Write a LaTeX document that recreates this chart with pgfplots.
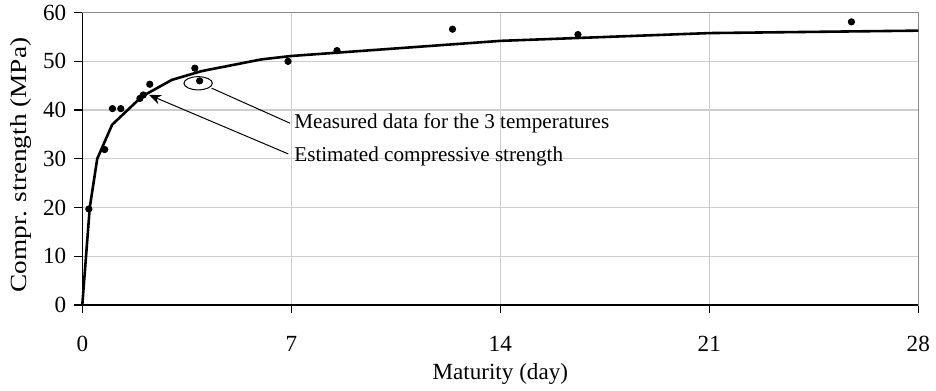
\documentclass[border=0pt]{standalone}
\usepackage{pgfplots}
\pgfplotsset{compat=1.18}
\usepackage{graphicx}
\usepackage{fontspec}
\setmainfont{Liberation Serif}
\usetikzlibrary{arrows.meta}
\definecolor{gridc}{RGB}{205,205,205}
\definecolor{borderc}{RGB}{140,140,140}
\begin{document}
\fontsize{11.6}{14}\selectfont
\begin{tikzpicture}
\useasboundingbox (-41.15bp,-43bp) rectangle (426.85bp,152.5bp);
\begin{axis}[
  scale only axis,
  width=418bp, height=146.2bp,
  xmin=0, xmax=28, ymin=0, ymax=60,
  xtick={0,7,14,21,28}, ytick={0,10,...,60},
  grid=major,
  major grid style={draw=gridc, line width=0.6pt},
  axis line style={draw=borderc, line width=0.6pt},
  tick align=outside, xtick pos=left, ytick pos=left,
  major tick length=4bp,
  tick style={black, line width=0.6pt},
  /pgf/number format/assume math mode=true,
  ticklabel style={font=\fontsize{11.6}{14}\selectfont},
  xticklabel style={yshift=-7.5bp},
  label style={font=\fontsize{11.6}{14}\selectfont},
  xlabel={Maturity (day)},
  ylabel={\scalebox{1.18}[1]{Compr. strength (MPa)}},
  xlabel style={at={(axis description cs:0.5,-0.236)}, anchor=center},
  ylabel style={at={(axis description cs:-0.0739,0.479)}, anchor=center},
  clip=false,
]
\addplot[black, line width=1.3pt, mark=none] coordinates {
 (0,0) (0.25,20) (0.5,30) (1,37) (2,42.8) (3,46.2) (4,48) (6,50.4) (7,51.1)
 (14,54.2) (21,55.8) (28,56.3)
};
\addplot[only marks, mark=*, mark size=1.6pt, black] coordinates {
 (0.22,19.7) (0.75,31.9) (1.01,40.3) (1.29,40.3) (1.93,42.4) (2.04,43.1)
 (2.26,45.3) (3.77,48.6) (3.93,46.0) (6.89,50.0) (8.53,52.2) (12.4,56.6)
 (16.6,55.5) (25.76,58.1)
};
\draw[black, line width=0.7pt] (axis cs:0,60) -- (axis cs:0,0) -- (axis cs:28,0);
\draw[black, line width=0.5pt] (axis cs:3.88,45.5) ellipse [x radius=7.1bp, y radius=3.3bp];
\draw[black, line width=0.5pt] (axis cs:4.33,44.5) -- (axis cs:6.96,37.3);
\draw[black, line width=0.5pt, -{Stealth[length=6bp,width=5bp]}] (axis cs:6.9,31.0) -- (axis cs:2.24,43.1);
\node[anchor=base west, inner sep=0pt, font=\fontsize{10.6}{13}\selectfont] at (axis cs:7.09,36.3) {Measured data for the 3 temperatures};
\node[anchor=base west, inner sep=0pt, font=\fontsize{10.6}{13}\selectfont] at (axis cs:7.09,29.4) {Estimated compressive strength};
\end{axis}
\end{tikzpicture}
\end{document}
